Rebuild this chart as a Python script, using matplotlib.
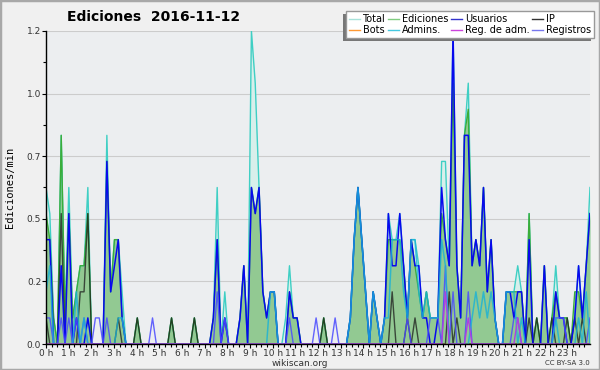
import numpy as np
import matplotlib
matplotlib.use('Agg')
import matplotlib.pyplot as plt
from matplotlib.lines import Line2D
from matplotlib.patches import Rectangle

# edits per 10 minutes (tenths of edits/min), 144 slots over the day
total = [6,5,1,0,8,1,6,1,2,3,3,6,0,0,0,0,8,2,4,4,2,0,0,0,
         1,0,0,0,0,0,0,0,0,1,0,0,0,0,0,1,0,0,0,0,1,6,0,2,
         0,0,0,1,3,0,12,10,6,2,1,2,2,0,0,1,3,1,1,0,0,0,0,0,
         0,1,0,0,0,0,0,0,1,4,6,4,2,0,2,1,0,1,5,4,4,5,3,1,
         4,4,3,1,2,1,1,1,7,7,3,12,3,1,8,10,3,4,3,6,2,4,1,0,
         0,2,2,2,3,2,0,5,0,1,0,3,0,1,3,1,1,1,0,1,3,1,3,6]
ediciones = [5,4,1,0,8,1,5,1,2,3,3,5,0,0,0,0,7,2,4,4,1,0,0,0,
             1,0,0,0,0,0,0,0,0,1,0,0,0,0,0,1,0,0,0,0,1,4,0,1,
             0,0,0,1,3,0,6,5,6,2,1,2,2,0,0,0,2,1,1,0,0,0,0,0,
             0,1,0,0,0,0,0,0,1,4,6,4,2,0,2,1,0,1,4,4,4,4,3,1,
             4,3,2,1,2,1,1,1,5,4,3,10,3,1,8,9,3,4,3,6,2,4,1,0,
             0,2,2,2,2,2,0,5,0,1,0,3,0,1,2,1,1,1,0,2,2,1,3,5]
usuarios = [4,4,0,0,3,0,5,0,1,0,0,1,0,0,0,0,7,2,3,4,1,0,0,0,
            0,0,0,0,0,0,0,0,0,0,0,0,0,0,0,0,0,0,0,0,1,4,0,1,
            0,0,0,1,3,0,6,5,6,2,1,2,2,0,0,0,2,1,1,0,0,0,0,0,
            0,0,0,0,0,0,0,0,1,4,6,4,2,0,2,1,0,1,5,3,3,5,3,1,
            4,3,3,1,1,0,0,1,6,4,3,12,3,1,8,8,3,4,3,6,2,4,1,0,
            0,2,2,1,2,2,0,4,0,0,0,3,0,0,2,1,1,0,0,1,3,1,3,5]
ip = [1,0,0,0,5,0,0,0,0,2,2,5,0,0,0,0,0,0,0,1,0,0,0,0,
      1,0,0,0,0,0,0,0,0,1,0,0,0,0,0,1,0,0,0,0,0,0,0,0,
      0,0,0,0,0,0,0,0,0,0,0,0,0,0,0,0,0,0,0,0,0,0,0,0,
      0,1,0,0,0,0,0,0,0,0,0,0,0,0,0,0,0,0,0,2,0,0,0,1,
      0,1,0,0,0,0,0,0,0,0,2,0,1,0,0,0,0,0,0,0,0,0,0,0,
      0,0,0,0,0,0,0,1,0,1,0,0,0,1,0,0,0,1,0,1,0,1,0,0]
bots = [0] * 144
admins = [2,3,0,0,0,0,0,0,2,0,1,0,0,0,0,0,0,0,0,1,1,0,0,0,
          0,0,0,0,0,0,0,0,0,0,0,0,0,0,0,0,0,0,0,0,0,0,0,0,
          0,0,0,0,0,0,0,0,0,0,0,2,2,0,0,0,0,0,0,0,0,0,0,0,
          0,0,0,0,0,0,0,0,1,4,6,4,2,0,2,1,0,1,1,4,4,4,2,1,
          4,4,2,1,2,1,1,1,4,3,0,0,0,0,0,0,1,2,1,2,1,2,1,0,
          0,2,2,2,0,1,0,0,0,0,0,0,0,0,1,0,0,0,0,0,1,0,2,0]
reg_adm = [0] * 105 + [2,0,0,0,0,0,1] + [0] * 12 + [1] + [0] * 19
registros = [1,1,0,0,1,0,1,0,1,0,1,0,0,1,1,0,1,0,0,0,0,0,0,0,
             0,0,0,0,1,0,0,0,0,0,0,0,0,0,0,0,0,0,0,0,0,2,0,1,
             0,0,0,0,0,0,0,0,0,0,0,0,0,0,0,0,1,0,0,0,0,0,0,1,
             0,0,0,0,1,0,0,0,0,0,0,0,0,0,0,0,0,0,0,0,0,0,0,1,
             0,0,0,0,0,1,1,1,0,3,0,2,0,0,0,2,0,0,0,0,0,0,0,0,
             0,0,0,1,1,0,0,0,0,0,0,0,0,0,1,1,1,0,0,0,0,0,0,1]

hours = np.linspace(0, 24, 144)
hour_labels = ['{} h'.format(h) for h in range(24)]
y_ticks = [0, 0.24, 0.48, 0.72, 0.96, 1.2]

fig = plt.figure(figsize=(6, 3.7), dpi=100, facecolor='#f0f0f0')
ax = fig.add_axes([46/600, 26/370, 544/600, 313/370])
ax.set_facecolor('#eceef0')

t = np.array(total) / 10
e = np.array(ediciones) / 10
ax.fill_between(hours, t, color='#d8efeb', lw=0, zorder=1)
ax.fill_between(hours, e, color='#92c992', lw=0, zorder=2)
ax.plot(hours, t, color='#3fcfc4', lw=1, zorder=3)
ax.plot(hours, e, color='#3aad3a', lw=1, zorder=3)
ax.plot(hours, np.array(ip) / 10, color='#1c1c1c', lw=1, alpha=0.75, zorder=4)
ax.plot(hours, np.array(usuarios) / 10, color='#0808ee', lw=1.1, zorder=5)
ax.plot(hours, np.array(registros) / 10, color='#4a4aff', lw=1, alpha=0.85, zorder=6)
ax.plot(hours, np.array(admins) / 10, color='#18b2d8', lw=1.1, alpha=0.8, zorder=6)
ax.plot(hours, np.array(bots) / 10, color='#ff9933', lw=1, zorder=6)
ax.plot(hours, np.array(reg_adm) / 10, color='#b040e0', lw=1, zorder=7)

ax.set_xlim(0, 24)
ax.set_ylim(0, 1.2)
ax.set_xticks(range(24))
ax.set_xticklabels(hour_labels)
ax.set_xticks(np.arange(0, 24, 0.25), minor=True)
ax.set_yticks(y_ticks)
ax.set_yticklabels(['%.1f' % v for v in y_ticks])
ax.set_yticks(np.arange(0.12, 1.2, 0.24), minor=True)
ax.tick_params(axis='both', which='major', length=3, width=0.8, labelsize=6.5,
               colors='#000000', labelcolor='#333333', pad=0.5)
ax.tick_params(axis='both', which='minor', length=2, width=0.8)
ax.grid(axis='y', color='#cccccc', lw=0.8)
ax.set_axisbelow(True)
for s in ['top', 'right']:
    ax.spines[s].set_visible(False)
for s in ['left', 'bottom']:
    ax.spines[s].set_zorder(10)
    ax.spines[s].set_linewidth(1)

fig.text(154/600, 1 - 17/370, 'Ediciones  2016-11-12', ha='center', va='center',
         fontsize=10, fontweight='bold')
fig.text(10/600, 1 - 187/370, 'Ediciones/min', rotation=90, ha='center', va='center',
         fontsize=7.5, family='DejaVu Sans Mono')
fig.text(0.5, 1 - 363.5/370, 'wikiscan.org', ha='center', va='center', fontsize=6.5, color='#333333')
fig.text(590/600, 1 - 363/370, 'CC BY-SA 3.0', ha='right', va='center', fontsize=5, color='#333333')

# legend, column-wise order gives rows Total..IP / Bots..Registros
names = ['Total', 'Bots', 'Ediciones', 'Admins.', 'Usuarios', 'Reg. de adm.', 'IP', 'Registros']
colors = ['#a8e2da', '#ff9933', '#80cc80', '#44c8e0', '#3333cc', '#cc44dd', '#333333', '#7777ee']
handles = [Line2D([], [], color=c, lw=1) for c in colors]
leg = fig.legend(handles, names, ncol=4, loc='upper left', bbox_to_anchor=(346/600, 1 - 11/370),
                 frameon=True, fancybox=False, fontsize=7, handlelength=1.1, handletextpad=0.3,
                 columnspacing=0.3, labelspacing=0.12, borderpad=0.3, borderaxespad=0)
leg.get_frame().set_edgecolor('#999999')
leg.get_frame().set_linewidth(1)
leg.get_frame().set_alpha(1)
leg.set_zorder(20)

fig.canvas.draw()
bb = leg.get_window_extent()
shadow = Rectangle((bb.x0 - 3, bb.y0 - 3), bb.width, bb.height, transform=None,
                   facecolor='#777777', edgecolor='none', zorder=19)
fig.patches.append(shadow)

fig.patches.append(Rectangle((0, 0), 1, 1, transform=fig.transFigure, fill=False,
                             edgecolor='#a8a8a8', lw=2.5))

fig.savefig('out.png', dpi=100, facecolor=fig.get_facecolor())
